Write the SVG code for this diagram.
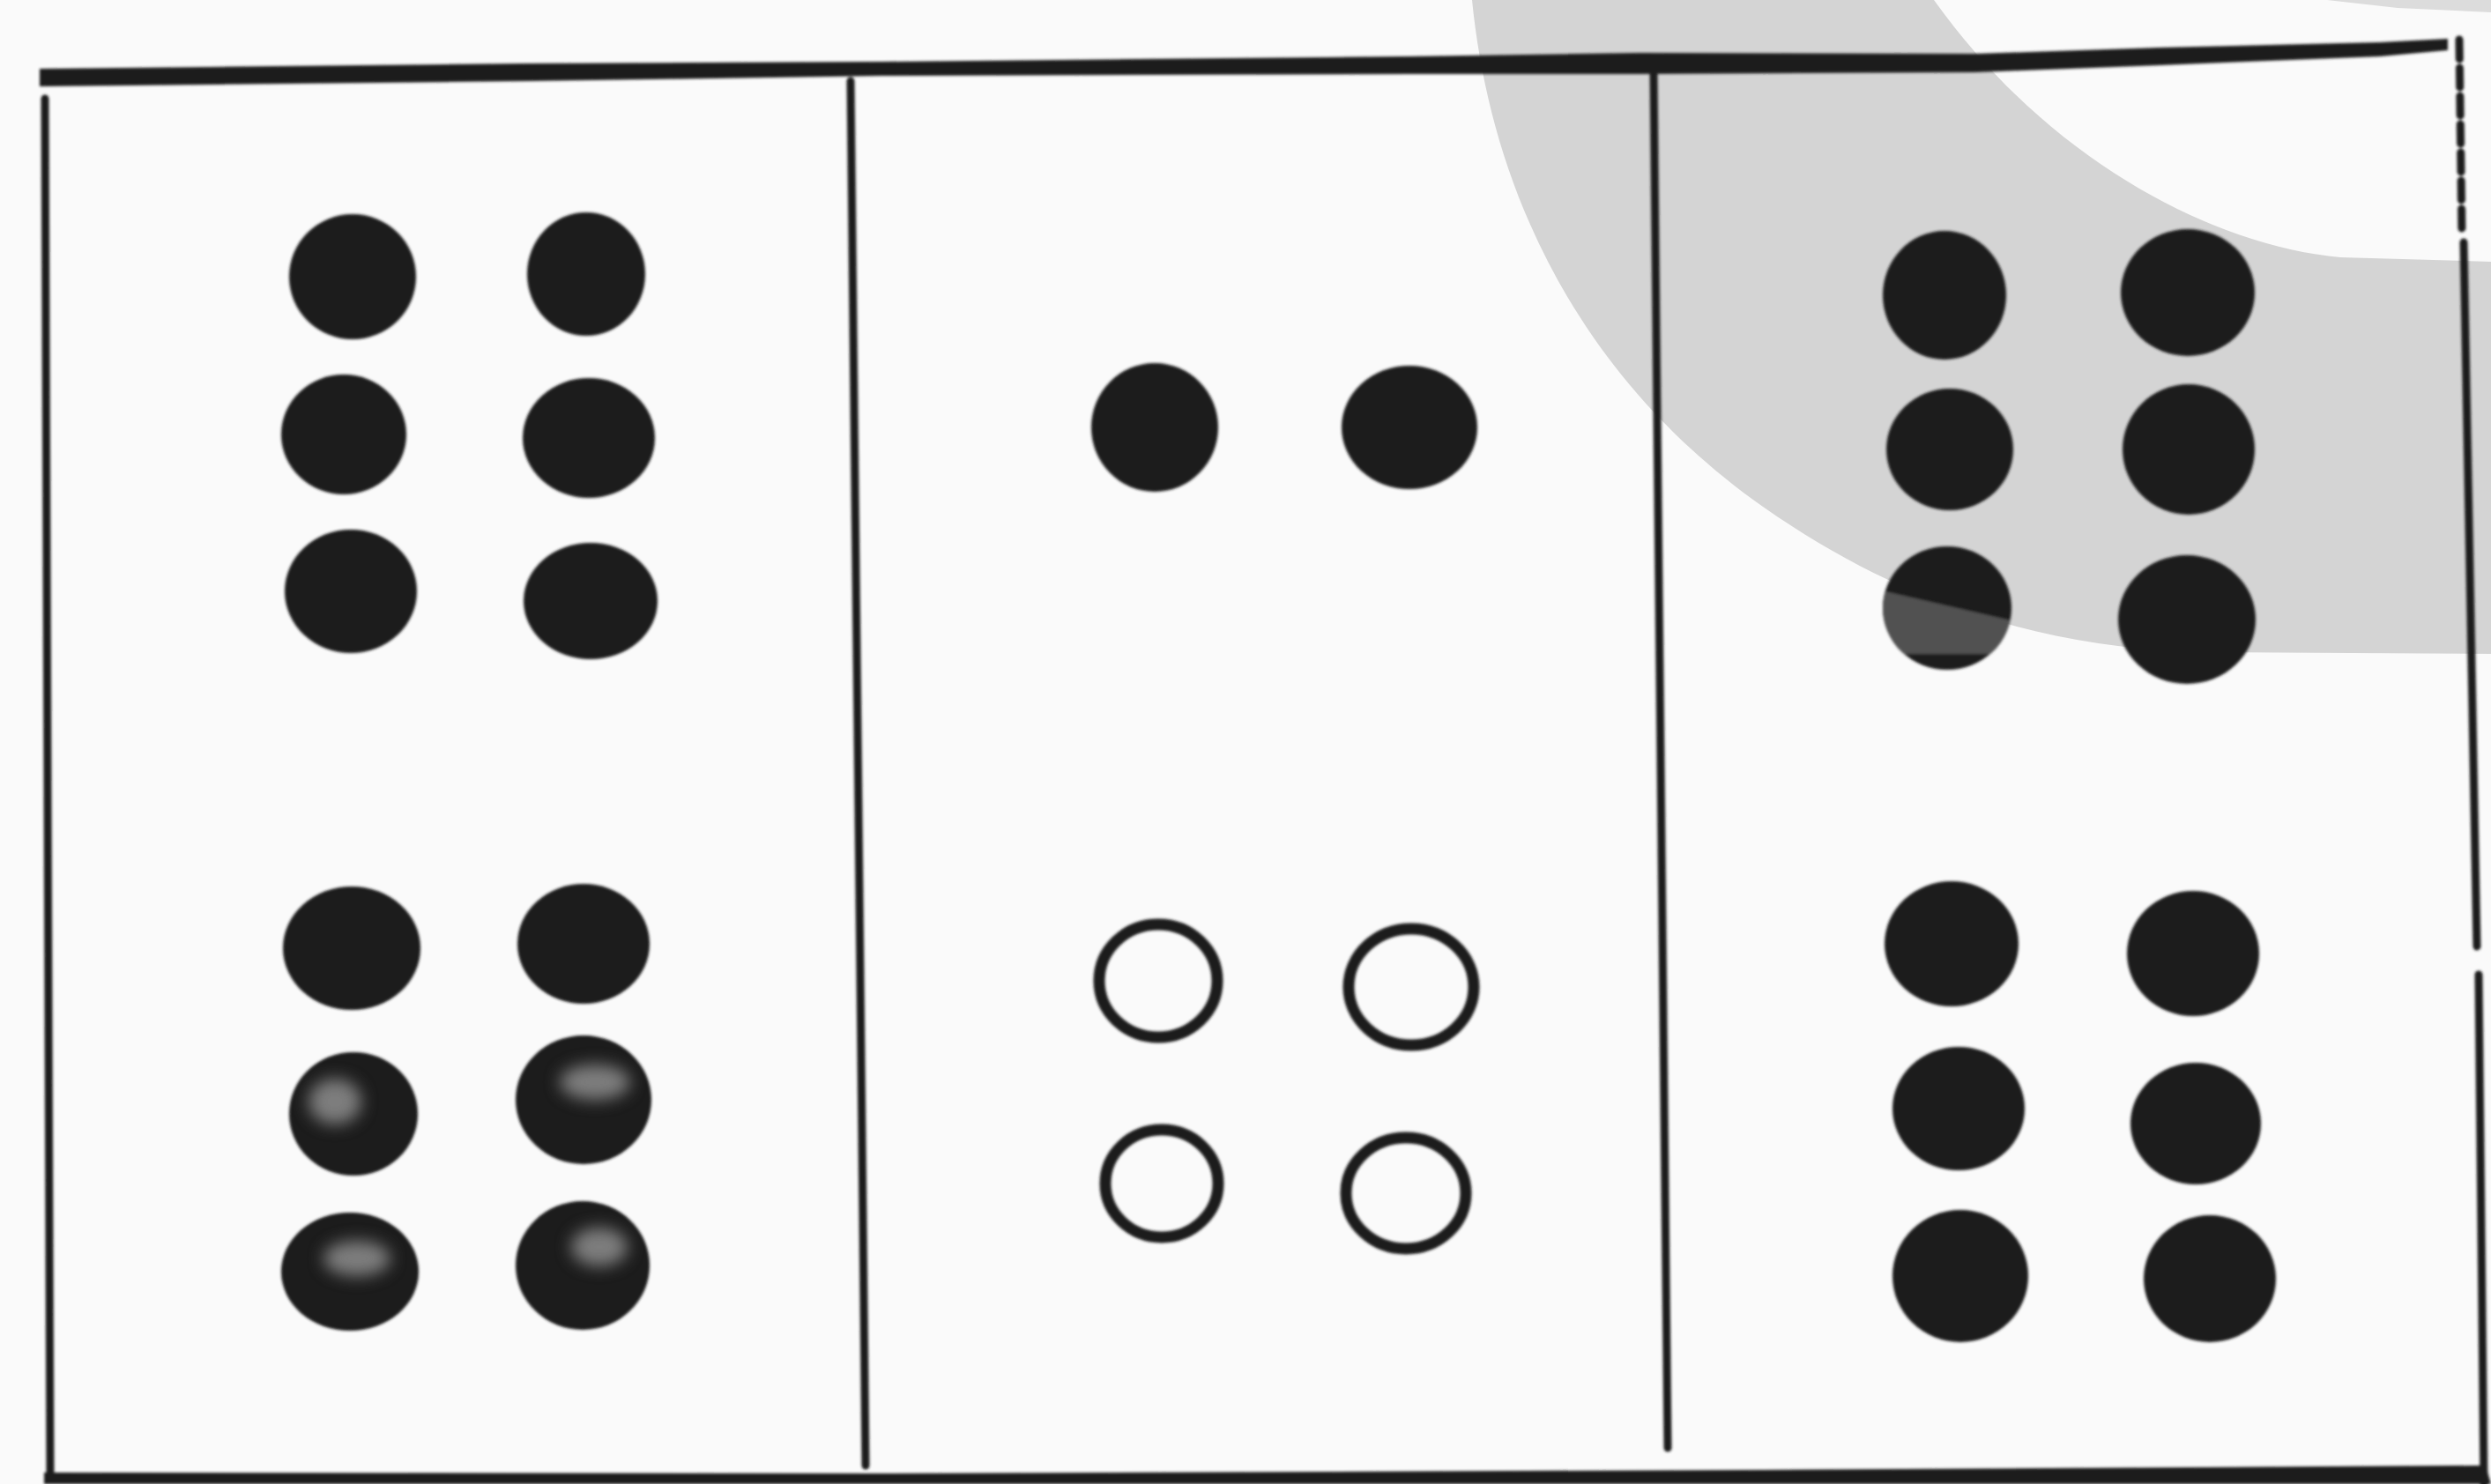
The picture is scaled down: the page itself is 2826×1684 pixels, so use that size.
<svg xmlns="http://www.w3.org/2000/svg" width="2826" height="1684" viewBox="0 0 2826 1684">
  <style>
    .ink{fill:#1b1b1b}
    .line{stroke:#1e1e1e;stroke-width:9;fill:none;stroke-linecap:round}
    .ring{fill:none;stroke:#1b1b1b;stroke-width:13}
    .grey{fill:#d4d4d4}
    .hl{fill:#8e8e8e;opacity:0.85}
  </style>
  <defs>
    <filter id="soft" x="-10%" y="-10%" width="120%" height="120%">
      <feGaussianBlur stdDeviation="1.5"/>
    </filter>
    <filter id="blur" x="-50%" y="-50%" width="200%" height="200%">
      <feGaussianBlur stdDeviation="9"/>
    </filter>
    <clipPath id="dotClip">
      <ellipse cx="2209" cy="690" rx="73" ry="70"/>
    </clipPath>
  </defs>

  <rect width="2826" height="1684" fill="#fafafa"/>

  <g id="grey-arc">
    <path class="grey" d="M1670,0 C1690,200 1780,420 2000,575 C2150,680 2300,730 2480,740 L2826,742 L2826,297 L2655,292 C2520,280 2330,190 2194,0 Z"/>
    <path fill="#dcdcdc" d="M2640,0 L2826,0 L2826,14 L2720,9 Z"/>
  </g>

  <g id="frame" filter="url(#soft)">
    <path class="ink" d="M45,78 L600,72 L1000,70 L1600,64 L1860,60 L2240,61 L2450,54 L2700,48 L2777,44 L2777,57 L2700,64 L2450,74 L2240,82 L1860,84 L1600,84 L1000,86 L600,92 L45,98 Z"/>
    <path class="line" d="M51,112 L57,1675"/>
    <path class="line" d="M965,92 L982,1663"/>
    <path class="line" d="M1876,80 L1892,1643"/>
    <path class="line" d="M2790,45 L2793,268" stroke-dasharray="22 10" stroke-width="12"/>
    <path class="line" d="M2795,275 L2810,1074" stroke-width="11"/>
    <path class="line" d="M2812,1106 L2818,1684" stroke-width="11"/>
    <path class="ink" d="M50,1671 L1000,1672 L2000,1668 L2820,1663 L2826,1684 L50,1684 Z"/>
  </g>

  <g id="panel-1" filter="url(#soft)">
    <ellipse class="ink" cx="400" cy="314" rx="72" ry="71"/>
    <ellipse class="ink" cx="665" cy="311" rx="67" ry="70"/>
    <ellipse class="ink" cx="390" cy="493" rx="71" ry="68"/>
    <ellipse class="ink" cx="668" cy="497" rx="75" ry="68"/>
    <ellipse class="ink" cx="398" cy="671" rx="75" ry="70"/>
    <ellipse class="ink" cx="670" cy="682" rx="76" ry="66"/>
    <ellipse class="ink" cx="399" cy="1076" rx="78" ry="70"/>
    <ellipse class="ink" cx="662" cy="1071" rx="75" ry="68"/>
    <ellipse class="ink" cx="401" cy="1264" rx="73" ry="70"/>
    <ellipse class="ink" cx="662" cy="1248" rx="77" ry="73"/>
    <ellipse class="ink" cx="397" cy="1443" rx="78" ry="67"/>
    <ellipse class="ink" cx="661" cy="1436" rx="76" ry="73"/>
  </g>
  <g id="panel-1-texture" filter="url(#blur)">
    <ellipse class="hl" cx="380" cy="1250" rx="30" ry="26"/>
    <ellipse class="hl" cx="675" cy="1228" rx="40" ry="20"/>
    <ellipse class="hl" cx="405" cy="1428" rx="38" ry="20"/>
    <ellipse class="hl" cx="680" cy="1415" rx="32" ry="22"/>
  </g>

  <g id="panel-2" filter="url(#soft)">
    <ellipse class="ink" cx="1310" cy="485" rx="72" ry="73"/>
    <ellipse class="ink" cx="1599" cy="485" rx="77" ry="70"/>
    <ellipse class="ring" cx="1314" cy="1113" rx="67" ry="64"/>
    <ellipse class="ring" cx="1601" cy="1120" rx="71" ry="66"/>
    <ellipse class="ring" cx="1318" cy="1343" rx="64" ry="61"/>
    <ellipse class="ring" cx="1595" cy="1354" rx="68" ry="63"/>
  </g>

  <g id="panel-3" filter="url(#soft)">
    <ellipse class="ink" cx="2206" cy="335" rx="70" ry="73"/>
    <ellipse class="ink" cx="2482" cy="332" rx="76" ry="72"/>
    <ellipse class="ink" cx="2212" cy="510" rx="72" ry="69"/>
    <ellipse class="ink" cx="2483" cy="510" rx="75" ry="74"/>
    <ellipse class="ink" cx="2209" cy="690" rx="73" ry="70"/>
    <ellipse class="ink" cx="2481" cy="703" rx="78" ry="73"/>
    <ellipse class="ink" cx="2214" cy="1071" rx="76" ry="71"/>
    <ellipse class="ink" cx="2488" cy="1082" rx="75" ry="71"/>
    <ellipse class="ink" cx="2222" cy="1258" rx="75" ry="70"/>
    <ellipse class="ink" cx="2491" cy="1275" rx="74" ry="69"/>
    <ellipse class="ink" cx="2224" cy="1448" rx="77" ry="75"/>
    <ellipse class="ink" cx="2507" cy="1451" rx="75" ry="72"/>
    <path fill="#515151" clip-path="url(#dotClip)" d="M2125,668 L2290,706 L2290,742 L2125,742 Z"/>
  </g>
</svg>
